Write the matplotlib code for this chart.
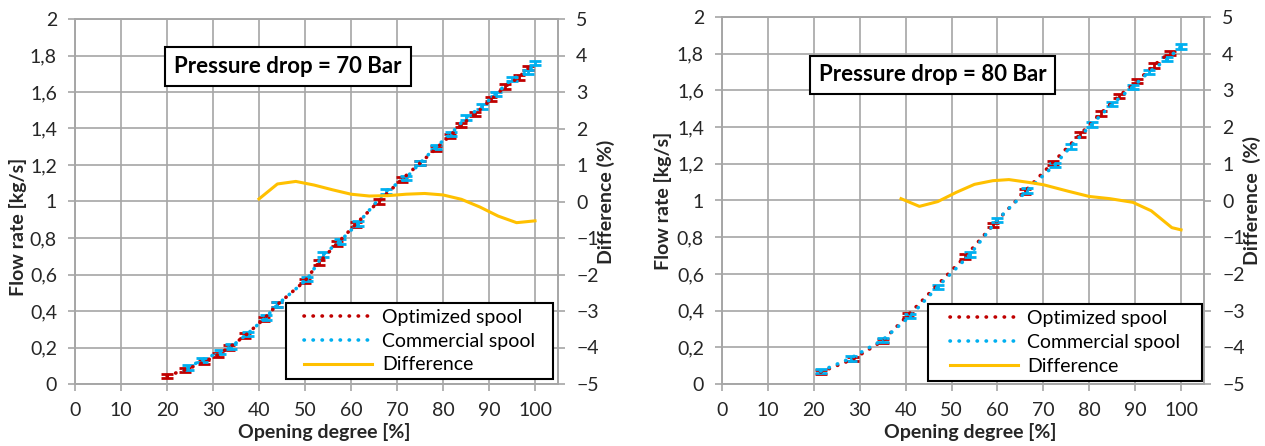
import matplotlib
matplotlib.use("Agg")
import matplotlib.pyplot as plt
from matplotlib.lines import Line2D
from matplotlib.patches import Rectangle
from matplotlib.ticker import FuncFormatter, MultipleLocator

plt.rcParams['font.family'] = ['Lato', 'DejaVu Sans']

# --- Pressure drop = 70 Bar ---
opt70_x = [20, 24, 28, 31, 33.5, 37, 41, 44, 50, 53, 57, 61, 66, 71, 75, 78.5, 81.5, 84, 87, 90.5, 93.5, 96.5, 98.5]
opt70_y = [0.045, 0.077, 0.12, 0.16, 0.2, 0.265, 0.355, 0.435, 0.565, 0.665, 0.77, 0.875, 1.0, 1.12,
           1.21, 1.29, 1.36, 1.42, 1.48, 1.56, 1.63, 1.68, 1.73]
com70_x = [24.5, 27.5, 31.5, 34, 37.5, 41.5, 44, 50.5, 54, 57.5, 61.5, 67.5, 72, 75, 78.5, 81.7, 85,
           88.5, 91.5, 95, 98.5, 100]
com70_y = [0.09, 0.13, 0.175, 0.205, 0.275, 0.365, 0.435, 0.575, 0.71, 0.78, 0.88, 1.055, 1.13, 1.21,
           1.3, 1.37, 1.46, 1.52, 1.59, 1.67, 1.71, 1.76]
dif70_x = [40, 44, 48, 52, 56, 60, 64, 68, 72, 76, 80, 84, 88, 92, 96, 100]
dif70_y = [0.07, 0.48, 0.55, 0.45, 0.32, 0.2, 0.15, 0.16, 0.2, 0.22, 0.18, 0.06, -0.15, -0.4, -0.58, -0.53]

# --- Pressure drop = 80 Bar ---
opt80_x = [21.5, 28.5, 35, 40.5, 53, 59, 66, 72, 78, 82.5, 86.5, 90.5, 94, 97.5]
opt80_y = [0.065, 0.135, 0.235, 0.375, 0.695, 0.865, 1.05, 1.205, 1.36, 1.475, 1.57, 1.65, 1.735, 1.805]
com80_x = [21.5, 28, 35, 41, 47, 54, 60, 66.5, 72.5, 76, 80.5, 85, 89.5, 93, 97, 100]
com80_y = [0.07, 0.14, 0.24, 0.37, 0.53, 0.705, 0.895, 1.055, 1.195, 1.295, 1.415, 1.525, 1.62, 1.70,
           1.77, 1.84]
dif80_x = [39, 43, 47, 51, 55, 59, 62.5, 67, 70, 75.5, 80, 84.5, 89.5, 93.5, 98, 100]
dif80_y = [0.05, -0.16, -0.03, 0.22, 0.44, 0.54, 0.57, 0.49, 0.43, 0.25, 0.11, 0.05, -0.05, -0.28, -0.74, -0.8]

titles = ['Pressure drop = 70 Bar', 'Pressure drop = 80 Bar']
right_labels = ['Difference (%)', 'Difference  (%)']
legend_labels = ['Optimized spool', 'Commercial spool', 'Difference']

RED = '#C00000'
BLUE = '#00B0F0'
ORANGE = '#FFC000'
GRID = '#A6A6A6'
TXT = '#262626'

W, H = 1265, 446
fig = plt.figure(figsize=(W / 100, H / 100), dpi=100)

# pixel boxes of the plot areas: left, right, top, bottom
boxes = [(75, 558, 19, 384), (722, 1204, 17, 384)]
title_pos = [(0.441, 0.870), (0.437, 0.842)]
ylab_pos = [(-0.118, 0.43), (-0.122, 0.499)]
# legend frames in pixels: left, top, width, height
leg_boxes = [(286, 303, 267, 76), (928, 304, 274, 77)]

panels = [
    (opt70_x, opt70_y, com70_x, com70_y, dif70_x, dif70_y),
    (opt80_x, opt80_y, com80_x, com80_y, dif80_x, dif80_y),
]

comma = FuncFormatter(lambda v, p: ('%g' % round(v, 1)).replace('.', ','))
dots = (0, (0.1, 2.4))

for i, (ox, oy, cx, cy, dx, dy) in enumerate(panels):
    l, r, t, b = boxes[i]
    ax = fig.add_axes([l / W, 1 - b / H, (r - l) / W, (b - t) / H])
    ax2 = ax.twinx()

    ax.errorbar(ox, oy, yerr=0.012, fmt='none', ecolor=RED, elinewidth=2, capsize=4, capthick=2, zorder=3)
    ax.errorbar(cx, cy, yerr=0.012, fmt='none', ecolor=BLUE, elinewidth=2, capsize=4, capthick=2, zorder=3)
    ax.plot(ox, oy, color=RED, lw=2.6, linestyle=dots, dash_capstyle='round', zorder=4)
    ax.plot(cx, cy, color=BLUE, lw=2.6, linestyle=dots, dash_capstyle='round', zorder=5)
    ax2.plot(dx, dy, color=ORANGE, lw=2.2)

    ax.set_xlim(0, 105)
    ax.set_ylim(0, 2)
    ax2.set_ylim(-5, 5)
    ax.set_xticks(range(0, 101, 10))
    ax.yaxis.set_major_locator(MultipleLocator(0.2))
    ax.yaxis.set_major_formatter(comma)
    ax2.set_yticks(range(-5, 6))

    ax.grid(True, color=GRID, lw=1.2)
    ax.set_axisbelow(True)
    for a in (ax, ax2):
        for s in a.spines.values():
            s.set_color(GRID)
            s.set_linewidth(1.2)
        a.tick_params(colors=GRID, labelcolor=TXT, labelsize=14, length=5, width=1.2, pad=8)

    ax.set_xlabel('Opening degree [%]', fontsize=14, fontweight='bold', color=TXT, va='center')
    ax.xaxis.set_label_coords(0.516, -0.132)
    ax.set_ylabel('Flow rate [kg/s]', fontsize=14, fontweight='bold', color=TXT, va='center')
    ax.yaxis.set_label_coords(*ylab_pos[i])
    ax2.set_ylabel(right_labels[i], fontsize=14, fontweight='bold', color=TXT, rotation=90, va='center')
    ax2.yaxis.set_label_coords(1.099, 0.5)

    ax2.text(title_pos[i][0], title_pos[i][1], titles[i], transform=ax2.transAxes,
             ha='center', va='center', fontsize=16, fontweight='bold', color='black',
             bbox=dict(boxstyle='square,pad=0.4', fc='white', ec='black', lw=1.5))

    # legend frame drawn as a plain box, legend entries centred inside it
    lx, ly, lw_, lh = leg_boxes[i]
    ax2.add_patch(Rectangle((lx / W, 1 - (ly + lh) / H), lw_ / W, lh / H, transform=fig.transFigure,
                            fc='white', ec='black', lw=1.5, clip_on=False, zorder=4.5))
    handles = [
        Line2D([], [], color=RED, lw=2.6, linestyle=dots, dash_capstyle='round'),
        Line2D([], [], color=BLUE, lw=2.6, linestyle=dots, dash_capstyle='round'),
        Line2D([], [], color=ORANGE, lw=2.2),
    ]
    ax2.legend(handles, legend_labels, loc='center',
               bbox_to_anchor=((lx + lw_ / 2) / W, 1 - (ly + lh / 2) / H), bbox_transform=fig.transFigure,
               fontsize=14, handlelength=3.5, handletextpad=0.5, labelspacing=0.35,
               borderpad=0.1, frameon=False)

fig.savefig('out.png', dpi=100)
